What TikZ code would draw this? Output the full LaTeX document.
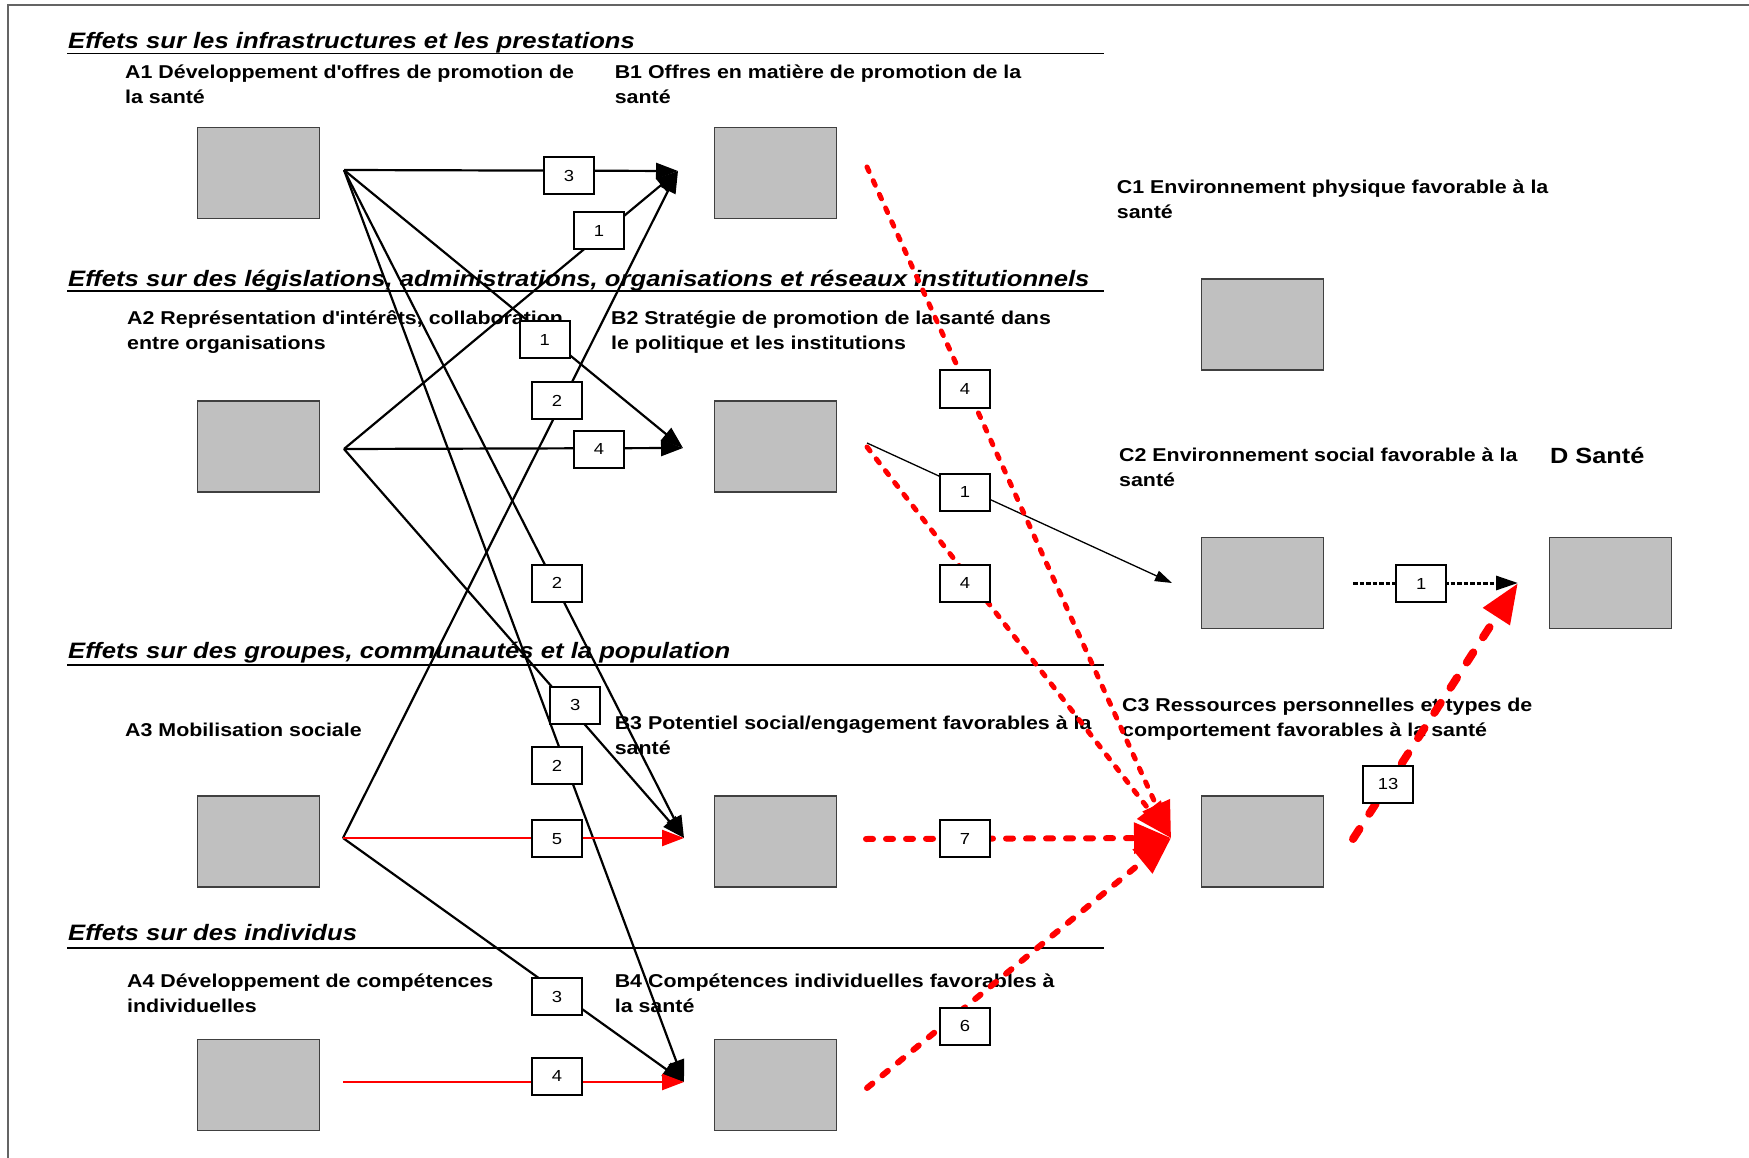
\documentclass[tikz,border=0pt]{standalone}
\usepackage{fontspec}
\setmainfont{Liberation Sans}[FakeStretch=1.15]
\usetikzlibrary{arrows.meta}
\newcommand{\twol}[2]{\vtop{\hbox{#1}\hbox{#2}}}
\definecolor{boxgray}{RGB}{192,192,192}
\definecolor{framegray}{RGB}{100,100,100}
\begin{document}
\begin{tikzpicture}[x=1pt,y=-1pt,
  gbox/.style={draw=black!75, line width=1.2pt, fill=boxgray, minimum width=122pt, minimum height=91pt, inner sep=0pt},
  numbox/.style={draw=black, line width=2pt, fill=white, minimum width=50pt, minimum height=37pt, inner sep=0pt, font=\fontsize{16}{19}\selectfont},
  hdr/.style={anchor=base west, inner sep=0pt, font=\fontsize{22.3}{26}\selectfont\bfseries\itshape},
  lbl/.style={anchor=base west, inner sep=0pt, font=\fontsize{18.6}{25}\selectfont\bfseries},
  blk/.style={line width=2.2pt, -{Triangle[length=22pt,width=16pt]}},
  redl/.style={red, line width=2.4pt, -{Triangle[length=22pt,width=16pt]}},
  thinarr/.style={line width=1.3pt, -{Triangle[length=17pt,width=11pt]}},
  reddot/.style={red, line width=5pt, line cap=round, dash pattern=on 5pt off 10pt, -{Triangle[length=36pt,width=29pt]}},
  reddash/.style={red, line width=6pt, line cap=round, dash pattern=on 7pt off 13pt, -{Triangle[length=37pt,width=30pt]}},
  redbig/.style={red, line width=8pt, line cap=round, dash pattern=on 12pt off 18pt, -{Triangle[length=40pt,width=30pt]}},
  blkdot/.style={line width=3pt, dash pattern=on 4.5pt off 2pt, -{Triangle[length=22pt,width=14pt]}},
  uline/.style={line width=1.3pt}
]
\useasboundingbox (0,0) rectangle (1749,1158);
% page frame
\draw[framegray, line width=1.5pt] (8,1158) -- (8,5) -- (1749,5);

% section headers
\node[hdr] (h1) at (68,48.5) {Effets sur les infrastructures et les prestations};
\node[hdr] (h2) at (68,286.5) {Effets sur des législations, administrations, organisations et réseaux institutionnels};
\node[hdr] (h3) at (68,658) {Effets sur des groupes, communautés et la population};
\node[hdr] (h4) at (68,940) {Effets sur des individus};
\draw[uline] (67,53.5) -- (1104,53.5);
\draw[uline] (67,291) -- (1104,291);
\draw[uline] (67,665) -- (1104,665);
\draw[uline] (67,948) -- (1104,948);

% labels
\node[lbl] (tA1) at (125,79) {\twol{A1 Développement d\textquotesingle offres de promotion de}{la santé}};
\node[lbl] (tB1) at (614.6,79) {\twol{B1 Offres en matière de promotion de la}{santé}};
\node[lbl] (tA2) at (127,324.5) {\twol{A2 Représentation d\textquotesingle intérêts, collaboration}{entre organisations}};
\node[lbl] (tB2) at (611,324.5) {\twol{B2 Stratégie de promotion de la santé dans}{le politique et les institutions}};
\node[lbl] (tC1) at (1116.7,194) {\twol{C1 Environnement physique favorable à la}{santé}};
\node[lbl] (tC2) at (1119,461) {\twol{C2 Environnement social favorable à la}{santé}};
\node[anchor=base west, inner sep=0pt, font=\fontsize{22}{26}\selectfont\bfseries] (tD) at (1550,463) {D Santé};
\node[lbl] (tA3) at (125,736) {A3 Mobilisation sociale};
\node[lbl] (tB3) at (614.6,729) {\twol{B3 Potentiel social/engagement favorables à la}{santé}};
\node[lbl] (tC3) at (1122,711) {\twol{C3 Ressources personnelles et types de}{comportement favorables à la santé}};
\node[lbl] (tA4) at (127,987) {\twol{A4 Développement de compétences}{individuelles}};
\node[lbl] (tB4) at (614.6,987) {\twol{B4 Compétences individuelles favorables à}{la santé}};

% gray boxes
\node[gbox] (A1) at (258.4,172.7) {};
\node[gbox] (A2) at (258.4,446.5) {};
\node[gbox] (A3) at (258.4,841.5) {};
\node[gbox] (A4) at (258.4,1084.8) {};
\node[gbox] (B1) at (775.8,172.7) {};
\node[gbox] (B2) at (775.8,446.5) {};
\node[gbox] (B3) at (775.8,841.5) {};
\node[gbox] (B4) at (775.8,1084.8) {};
\node[gbox] (C1) at (1262.7,324.6) {};
\node[gbox] (C2) at (1262.7,583) {};
\node[gbox] (C3) at (1262.7,841.5) {};
\node[gbox] (D) at (1610.3,583) {};

% connector ends
\coordinate (a1) at (344,170);
\coordinate (a2) at (344,449);
\coordinate (a3) at (343,838);
\coordinate (a4) at (343,1082);
\coordinate (b1) at (678,171);
\coordinate (b2) at (683,448);
\coordinate (b3) at (684,838);
\coordinate (b4) at (684,1082);
\coordinate (b1r) at (867,167);
\coordinate (b2r) at (867,447);
\coordinate (b2k) at (867,443);
\coordinate (b3r) at (866,839);
\coordinate (b4r) at (867,1088);
\coordinate (c2i) at (1172,583);
\coordinate (c3i) at (1171,838);
\coordinate (c2o) at (1353,583);
\coordinate (c3o) at (1353,839);
\coordinate (di) at (1518,583);

% connectors A -> B
\draw[blk] (a1) -- (b1);
\draw[blk] (a2) -- (b1);
\draw[blk] (a3) -- (b1);
\draw[blk] (a1) -- (b2);
\draw[blk] (a2) -- (b2);
\draw[blk] (a1) -- (b3);
\draw[blk] (a2) -- (b3);
\draw[blk] (a1) -- (b4);
\draw[blk] (a3) -- (b4);
\draw[redl] (a3) -- (b3);
\draw[redl] (a4) -- (b4);
% connectors B -> C
\draw[thinarr] (b2k) -- (c2i);
\draw[reddot] (b1r) -- (c3i);
\draw[reddot] (b2r) -- (c3i);
\draw[reddash] (b3r) -- (c3i);
\draw[reddash] (b4r) -- (c3i);
% connectors C -> D
\draw[blkdot] (c2o) -- (di);
\draw[redbig] (c3o) -- (di);

% number boxes
\node[numbox] (n1) at (569,176) {3};
\node[numbox] (n2) at (599,230.5) {1};
\node[numbox] (n3) at (544.7,340) {1};
\node[numbox] (n4) at (557,400.7) {2};
\node[numbox] (n5) at (599,449.3) {4};
\node[numbox] (n6) at (557,583) {2};
\node[numbox] (n7) at (575.3,705) {3};
\node[numbox] (n8) at (557,765.7) {2};
\node[numbox] (n9) at (557,838.7) {5};
\node[numbox] (n10) at (557,996.7) {3};
\node[numbox] (n11) at (557,1076) {4};
\node[numbox] (n12) at (965,389) {4};
\node[numbox] (n13) at (965,492.3) {1};
\node[numbox] (n14) at (965,583) {4};
\node[numbox] (n15) at (965,838.7) {7};
\node[numbox] (n16) at (965,1026) {6};
\node[numbox] (n17) at (1421.3,583.5) {1};
\node[numbox] (n18) at (1388,784.2) {13};
\end{tikzpicture}
\end{document}
